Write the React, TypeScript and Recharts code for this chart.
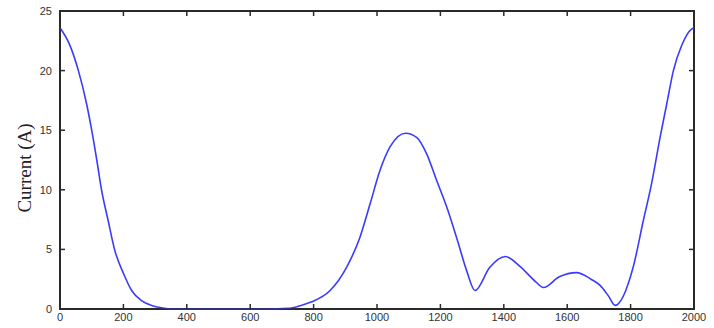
import { LineChart, Line, XAxis, YAxis } from "recharts";

// distance (sample positions) and current readings
const positions = [
  0, 30, 58, 84, 100, 116, 131, 152, 173, 200, 226, 257, 289, 320, 360, 450,
  550, 650, 720, 760, 794, 852, 904, 946, 978, 1009, 1041, 1090, 1125, 1157,
  1188, 1220, 1251, 1283, 1309, 1356, 1405, 1450, 1500, 1525, 1575, 1630,
  1675, 1703, 1730, 1751, 1808, 1840, 1866, 1893, 1914, 1935, 1961, 1993, 2000,
];
const current = [
  23.6, 22.2, 20.0, 17.2, 15.0, 12.5, 10.0, 7.4, 4.9, 3.0, 1.55, 0.7, 0.3,
  0.1, 0, 0, 0, 0, 0.05, 0.3, 0.6, 1.55, 3.5, 6.0, 8.8, 11.6, 13.6, 14.75,
  14.4, 13.0, 10.8, 8.55, 6.0, 3.2, 1.55, 3.5, 4.4, 3.6, 2.3, 1.8, 2.7, 3.05,
  2.5, 2.0, 1.1, 0.3, 3.5, 7.4, 10.5, 14.4, 17.2, 20.0, 22.1, 23.5, 23.6,
];
const xTicks = [0, 200, 400, 600, 800, 1000, 1200, 1400, 1600, 1800, 2000];
const yTicks = [0, 5, 10, 15, 20, 25];

const data = positions.map((x, i) => ({ x, current: current[i] }));

const axisColor = "#2b2b2b";
const tickFont = "Liberation Sans, Arial, sans-serif";

// ticks point into the plot, like a matlab figure
function BottomTick({ x, y, payload }: any) {
  return (
    <g>
      <line x1={x} y1={y} x2={x} y2={y - 5} stroke={axisColor} strokeWidth={1.5} />
      <text x={x} y={y + 12} textAnchor="middle" fontSize={11} fill="#333" fontFamily={tickFont}>
        {payload.value}
      </text>
    </g>
  );
}

function LeftTick({ x, y, payload }: any) {
  return (
    <g>
      <line x1={x} y1={y} x2={x + 5} y2={y} stroke={axisColor} strokeWidth={1.5} />
      <text x={x - 8} y={y + 4} textAnchor="end" fontSize={11} fill="#333" fontFamily={tickFont}>
        {payload.value}
      </text>
    </g>
  );
}

function TopTick({ x, y }: any) {
  return <line x1={x} y1={y} x2={x} y2={y + 5} stroke={axisColor} strokeWidth={1.5} />;
}

function RightTick({ x, y }: any) {
  return <line x1={x} y1={y} x2={x - 5} y2={y} stroke={axisColor} strokeWidth={1.5} />;
}

export default function App() {
  return (
    <div style={{ position: "absolute", left: 0, top: 0 }}>
      <div
        style={{
          position: "absolute",
          left: -55,
          top: 156,
          width: 160,
          height: 24,
          lineHeight: "24px",
          textAlign: "center",
          transform: "rotate(-90deg)",
          fontFamily: "Liberation Serif, Times New Roman, serif",
          fontSize: 19,
          color: "#222",
        }}
      >
        Current (A)
      </div>
      {/* plot box outline */}
      <div
        style={{
          position: "absolute",
          left: 59,
          top: 10,
          width: 636,
          height: 300,
          boxSizing: "border-box",
          border: `2px solid ${axisColor}`,
          pointerEvents: "none",
        }}
      />
      <LineChart width={714} height={328} data={data} margin={{ top: 10, right: 19, bottom: 0, left: 0 }}>
        <XAxis
          xAxisId={0}
          dataKey="x"
          type="number"
          domain={[0, 2000]}
          ticks={xTicks}
          height={19}
          stroke={axisColor}
          tickLine={false}
          tickSize={0}
          tickMargin={0}
          tick={<BottomTick />}
        />
        <XAxis
          xAxisId={1}
          dataKey="x"
          type="number"
          orientation="top"
          domain={[0, 2000]}
          ticks={xTicks}
          height={1}
          stroke={axisColor}
          tickLine={false}
          tickSize={0}
          tickMargin={0}
          tick={<TopTick />}
        />
        <YAxis
          yAxisId={0}
          type="number"
          domain={[0, 25]}
          ticks={yTicks}
          width={60}
          stroke={axisColor}
          tickLine={false}
          tickSize={0}
          tickMargin={0}
          tick={<LeftTick />}
        />
        <YAxis
          yAxisId={1}
          orientation="right"
          type="number"
          domain={[0, 25]}
          ticks={yTicks}
          width={1}
          stroke={axisColor}
          tickLine={false}
          tickSize={0}
          tickMargin={0}
          tick={<RightTick />}
        />
        <Line xAxisId={1} yAxisId={1} type="monotone" dataKey="current" stroke="none" dot={false} isAnimationActive={false} />
        <Line
          xAxisId={0}
          yAxisId={0}
          type="monotone"
          dataKey="current"
          stroke="#3b3bff"
          strokeWidth={1.6}
          dot={false}
          isAnimationActive={false}
        />
      </LineChart>
    </div>
  );
}
